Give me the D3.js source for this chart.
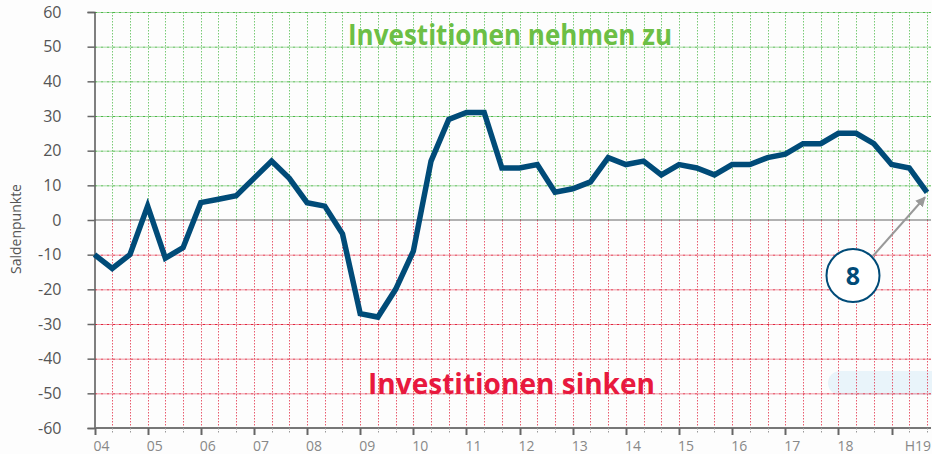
<!DOCTYPE html>
<html>
<head>
<meta charset="utf-8">
<script src="https://cdn.jsdelivr.net/npm/d3@7"></script>
<style>
  html, body { margin: 0; padding: 0; background: #fdfdfd; }
  svg { display: block; }
</style>
</head>
<body>
<svg id="chart" width="932" height="454"></svg>
<script>
// ---- Data ----
const periods = d3.range(48); // 2004 (Jahresbeginn) .. Herbst 2019, 3 surveys per year
const values = [
  -10, -14, -10,   // 04
    4, -11,  -8,   // 05
    5,   6,   7,   // 06
   12,  17,  12,   // 07
    5,   4,  -4,   // 08
  -27, -28, -20,   // 09
   -9,  17,  29,   // 10
   31,  31,  15,   // 11
   15,  16,   8,   // 12
    9,  11,  18,   // 13
   16,  17,  13,   // 14
   16,  15,  13,   // 15
   16,  16,  18,   // 16
   19,  22,  22,   // 17
   25,  25,  22,   // 18
   16,  15,   8    // H19
];
const yearLabels = ["04","05","06","07","08","09","10","11","12","13","14","15","16","17","18"];
const lastLabel = "H19";
const yTicks = [60, 50, 40, 30, 20, 10, 0, -10, -20, -30, -40, -50, -60];
const yTitle = "Saldenpunkte";
const upperText = "Investitionen nehmen zu";
const lowerText = "Investitionen sinken";
const calloutValue = "8";

// ---- Setup ----
const svg = d3.select("#chart");
const W = 932, H = 454;
const x = d3.scaleLinear().domain([0, 47]).range([94.5, 927]);
const y = d3.scaleLinear().domain([-60, 60]).range([428, 12]);
const right = 931;

const GREEN = "#4cb848", RED = "#e0263f", BLUE = "#004b78";

// faint background decoration (watermark)
svg.append("rect").attr("x", 0).attr("y", 0).attr("width", W).attr("height", H).attr("fill", "#fdfdfd");
svg.append("rect").attr("x", 828).attr("y", 371).attr("width", 120).attr("height", 24)
  .attr("rx", 12).attr("fill", "#e9f4fa");

// ---- Grid ----
const grid = svg.append("g");
yTicks.filter(v => v !== 0 && v !== -60).forEach(v => {
  grid.append("line")
    .attr("x1", x(0)).attr("x2", right)
    .attr("y1", y(v) + 0.5).attr("y2", y(v) + 0.5)
    .attr("stroke", v > 0 ? GREEN : RED)
    .attr("stroke-width", 1)
    .attr("stroke-dasharray", "3,1,1,1");
});
periods.slice(1).forEach(i => {
  const xx = Math.round(x(i)) + 0.5;
  grid.append("line")
    .attr("x1", xx).attr("x2", xx).attr("y1", y(60)).attr("y2", y(0))
    .attr("stroke", GREEN).attr("stroke-opacity", 0.75).attr("stroke-width", 1)
    .attr("stroke-dasharray", "1.5,1.5");
  grid.append("line")
    .attr("x1", xx).attr("x2", xx).attr("y1", y(0)).attr("y2", y(-60))
    .attr("stroke", RED).attr("stroke-opacity", 0.75).attr("stroke-width", 1)
    .attr("stroke-dasharray", "1.5,1.5");
});

// zero line
svg.append("line")
  .attr("x1", x(0)).attr("x2", right).attr("y1", y(0)).attr("y2", y(0))
  .attr("stroke", "#666").attr("stroke-width", 1.2);

// ---- Y axis ----
const yAxis = d3.axisLeft(y).tickValues(yTicks).tickSize(7).tickPadding(26).tickFormat(d => String(d));
const yg = svg.append("g").attr("transform", `translate(${x(0)},0)`).call(yAxis);
yg.select(".domain").attr("stroke", "#555").attr("stroke-width", 1.5);
yg.selectAll(".tick line").attr("stroke", "#666").attr("stroke-width", 1.5);
yg.selectAll(".tick text").attr("fill", "#555").attr("font-family", "'Open Sans', sans-serif").attr("font-size", 16);

// y title
svg.append("text")
  .attr("transform", `translate(21,229) rotate(-90)`)
  .attr("text-anchor", "middle")
  .attr("fill", "#555")
  .attr("font-family", "'Open Sans', sans-serif")
  .attr("font-size", 14)
  .text(yTitle);

// ---- X axis ----
svg.append("line")
  .attr("x1", x(0)).attr("x2", right).attr("y1", y(-60)).attr("y2", y(-60))
  .attr("stroke", "#777").attr("stroke-width", 2);
periods.forEach(i => {
  const major = i % 3 === 0;
  const xx = Math.round(x(i)) + 0.5;
  svg.append("line")
    .attr("x1", xx).attr("x2", xx)
    .attr("y1", y(-60)).attr("y2", y(-60) + (major ? 7 : 5))
    .attr("stroke", major ? "#666" : "#999")
    .attr("stroke-width", major ? 2 : 1)
    .attr("stroke-dasharray", major ? null : "1.5,1.5");
});
yearLabels.forEach((lab, k) => {
  svg.append("text")
    .attr("x", x(k * 3) - 1).attr("y", 451)
    .attr("fill", "#888")
    .attr("font-family", "'Open Sans', sans-serif")
    .attr("font-size", 14)
    .text(lab);
});
svg.append("text")
  .attr("x", 931).attr("y", 451)
  .attr("text-anchor", "end")
  .attr("fill", "#888")
  .attr("font-family", "'Open Sans', sans-serif")
  .attr("font-size", 14)
  .text(lastLabel);

// ---- Annotation texts ----
svg.append("text")
  .attr("x", 348).attr("y", 45)
  .attr("textLength", 324).attr("lengthAdjust", "spacingAndGlyphs")
  .attr("fill", "#6cbf45")
  .attr("font-family", "'Open Sans', sans-serif")
  .attr("font-weight", 700)
  .attr("font-size", 29)
  .text(upperText);
svg.append("text")
  .attr("x", 368).attr("y", 394)
  .attr("textLength", 287).attr("lengthAdjust", "spacingAndGlyphs")
  .attr("fill", "#e8193e")
  .attr("font-family", "'Open Sans', sans-serif")
  .attr("font-weight", 700)
  .attr("font-size", 28)
  .text(lowerText);

// ---- Line ----
const line = d3.line().x((d, i) => x(periods[i])).y(d => y(d)).curve(d3.curveLinear);
svg.append("path")
  .datum(values)
  .attr("d", line)
  .attr("fill", "none")
  .attr("stroke", BLUE)
  .attr("stroke-width", 5.5)
  .attr("stroke-linejoin", "miter")
  .attr("stroke-linecap", "butt");

// ---- Callout ----
const lastX = x(periods[periods.length - 1]);
const lastY = y(values[values.length - 1]);
const defs = svg.append("defs");
defs.append("marker")
  .attr("id", "arrow").attr("viewBox", "0 0 10 10")
  .attr("refX", 9).attr("refY", 5)
  .attr("markerWidth", 5).attr("markerHeight", 5)
  .attr("orient", "auto")
  .append("path").attr("d", "M0,0 L10,5 L0,10 Z").attr("fill", "#999");

const cx = 853, cy = 275.5, r = 26.5;
svg.append("line")
  .attr("x1", 873).attr("y1", 256)
  .attr("x2", lastX - 2).attr("y2", lastY + 5)
  .attr("stroke", "#999").attr("stroke-width", 2)
  .attr("marker-end", "url(#arrow)");
svg.append("circle")
  .attr("cx", cx).attr("cy", cy).attr("r", r)
  .attr("fill", "#fff").attr("stroke", BLUE).attr("stroke-width", 2);
svg.append("text")
  .attr("x", cx).attr("y", cy + 9)
  .attr("text-anchor", "middle")
  .attr("fill", BLUE)
  .attr("font-family", "'Open Sans', sans-serif")
  .attr("font-weight", 700)
  .attr("font-size", 25)
  .text(calloutValue);
</script>
</body>
</html>
